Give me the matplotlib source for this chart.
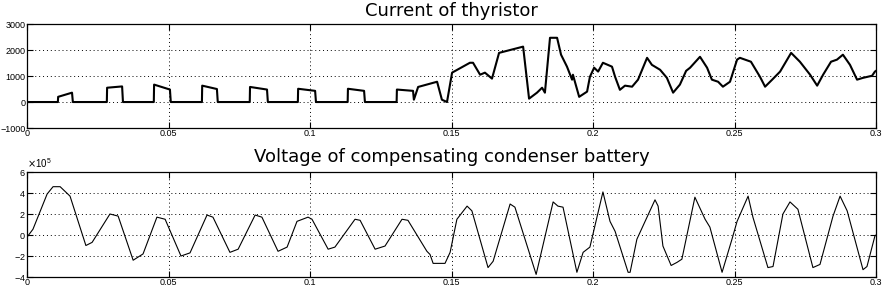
import numpy as np
import matplotlib
matplotlib.use('Agg')
import matplotlib.pyplot as plt
from matplotlib.ticker import ScalarFormatter

plt.rcParams['font.family'] = ['Liberation Sans', 'DejaVu Sans']

# thyristor current (A)
t_cur = [0, 0.0109, 0.0110, 0.0159, 0.0162,
         0.0282, 0.0283, 0.0336, 0.0339,
         0.0448, 0.0449, 0.0505, 0.0508,
         0.0618, 0.0619, 0.0671, 0.0674,
         0.0787, 0.0788, 0.0848, 0.0851,
         0.0957, 0.0958, 0.1018, 0.1021,
         0.1133, 0.1134, 0.1191, 0.1194,
         0.1306, 0.1307, 0.1364, 0.1367, 0.1382, 0.1449, 0.1466, 0.1484,
         0.1502, 0.1565, 0.1576, 0.1601, 0.1618, 0.1643, 0.1668, 0.1753,
         0.1774, 0.1802, 0.1820, 0.1830, 0.1848, 0.1873, 0.1887, 0.1908,
         0.1926, 0.1929, 0.1951, 0.1979, 0.1989, 0.2004, 0.2018, 0.2035,
         0.2067, 0.2078, 0.2095, 0.2113, 0.2138, 0.2159, 0.2191, 0.2208,
         0.2237, 0.2261, 0.2283, 0.2307, 0.2329, 0.2343, 0.2378, 0.2403,
         0.2420, 0.2442, 0.2459, 0.2484, 0.2509, 0.2519, 0.2558, 0.2590,
         0.2608, 0.2633, 0.2661, 0.2700, 0.2731, 0.2767, 0.2792, 0.2813,
         0.2841, 0.2862, 0.2883, 0.2908, 0.2933, 0.2954, 0.2986, 0.2996, 0.3]
i_cur = [0, 0, 200, 360, 0,
         0, 550, 600, 0,
         0, 670, 480, 0,
         0, 630, 500, 0,
         0, 580, 480, 0,
         0, 510, 430, 0,
         0, 510, 430, 0,
         0, 480, 430, 90, 580, 780, 90, 0,
         1130, 1510, 1510, 1050, 1130, 900, 1890, 2130,
         130, 360, 550, 360, 2470, 2470, 1820, 1360,
         860, 1050, 200, 400, 970, 1320, 1170, 1510,
         1360, 970, 470, 630, 590, 860, 1700, 1430,
         1240, 930, 360, 670, 1200, 1320, 1740, 1320,
         860, 780, 590, 780, 1630, 1700, 1550, 970,
         590, 860, 1170, 1890, 1550, 1050, 630, 1050,
         1550, 1630, 1820, 1430, 860, 930, 1010, 1170, 1200]

# condenser battery voltage (x1e5 V)
t_volt = [0, 0.0021, 0.0071, 0.0092, 0.0117, 0.0152, 0.0208, 0.0230,
          0.0293, 0.0322, 0.0375, 0.0410, 0.0459, 0.0488, 0.0544, 0.0576,
          0.0636, 0.0657, 0.0717, 0.0746, 0.0806, 0.0830, 0.0887, 0.0919,
          0.0954, 0.0993, 0.1007, 0.1064, 0.1088, 0.1159, 0.1177, 0.1230,
          0.1265, 0.1325, 0.1346, 0.1413, 0.1424, 0.1435, 0.1477, 0.1495,
          0.1519, 0.1555, 0.1572, 0.1629, 0.1647, 0.1707, 0.1724, 0.1799,
          0.1859, 0.1876, 0.1894, 0.1943, 0.1965, 0.1989, 0.2035, 0.2060,
          0.2078, 0.2124, 0.2131, 0.2155, 0.2219, 0.2230, 0.2247, 0.2276,
          0.2297, 0.2314, 0.2360, 0.2396, 0.2413, 0.2456, 0.2491, 0.2509,
          0.2548, 0.2565, 0.2618, 0.2636, 0.2671, 0.2696, 0.2724, 0.2777,
          0.2802, 0.2848, 0.2873, 0.2898, 0.2954, 0.2968, 0.2996, 0.3]
v_volt = [-0.2, 0.55, 3.9, 4.6, 4.6, 3.7, -1.0, -0.7,
          2.0, 1.8, -2.4, -1.8, 1.7, 1.5, -2.0, -1.7,
          1.9, 1.7, -1.65, -1.35, 1.9, 1.7, -1.55, -1.15,
          1.3, 1.7, 1.5, -1.35, -1.15, 1.5, 1.4, -1.35,
          -1.05, 1.5, 1.4, -1.55, -1.85, -2.7, -2.7, -1.65,
          1.5, 2.75, 2.3, -3.1, -2.5, 2.95, 2.65, -3.75,
          3.15, 2.75, 2.65, -3.55, -1.65, -1.15, 4.1, 1.3,
          0.35, -3.55, -3.55, -0.4, 3.35, 2.75, -1.05, -2.9,
          -2.6, -2.3, 3.6, 1.5, 0.75, -3.55, -0.4, 1.3,
          3.7, 1.7, -3.1, -3.0, 2.0, 3.15, 2.45, -3.1,
          -2.8, 1.8, 3.7, 2.3, -3.3, -3.0, -0.1, 0.0]

x_ticks = [0, 0.05, 0.1, 0.15, 0.2, 0.25, 0.3]
x_labels = ['0', '0.05', '0.1', '0.15', '0.2', '0.25', '0.3']

fig = plt.figure(figsize=(8.83, 2.91), dpi=100)
ax1 = fig.add_axes([0.0306, 0.560, 0.9615, 0.3575])
ax2 = fig.add_axes([0.0306, 0.048, 0.9615, 0.361])

ax1.plot(t_cur, i_cur, color='black', linewidth=1.5)
ax1.set_ylim(-1000, 3000)
ax1.set_yticks([-1000, 0, 1000, 2000, 3000])
ax1.set_title('Current of thyristor', fontsize=13, pad=6, family='DejaVu Sans')

ax2.plot(t_volt, np.array(v_volt) * 1e5, color='black', linewidth=0.8)
ax2.set_ylim(-4e5, 6e5)
ax2.set_yticks([-4e5, -2e5, 0, 2e5, 4e5, 6e5])
fmt = ScalarFormatter(useMathText=True)
fmt.set_powerlimits((0, 0))
ax2.yaxis.set_major_formatter(fmt)
ax2.yaxis.get_offset_text().set_fontsize(7)
ax2.set_title('Voltage of compensating condenser battery', fontsize=13, pad=7,
              family='DejaVu Sans')

for ax in (ax1, ax2):
    ax.set_xlim(0, 0.3)
    ax.set_xticks(x_ticks)
    ax.set_xticklabels(x_labels)
    ax.grid(True, linestyle=(0, (1, 3)), color='black', linewidth=0.7)
    ax.tick_params(direction='in', top=True, right=True, labelsize=6.5,
                   length=4, width=0.8, pad=1)
    for s in ax.spines.values():
        s.set_linewidth(0.9)

fig.savefig('out.png', dpi=100)
